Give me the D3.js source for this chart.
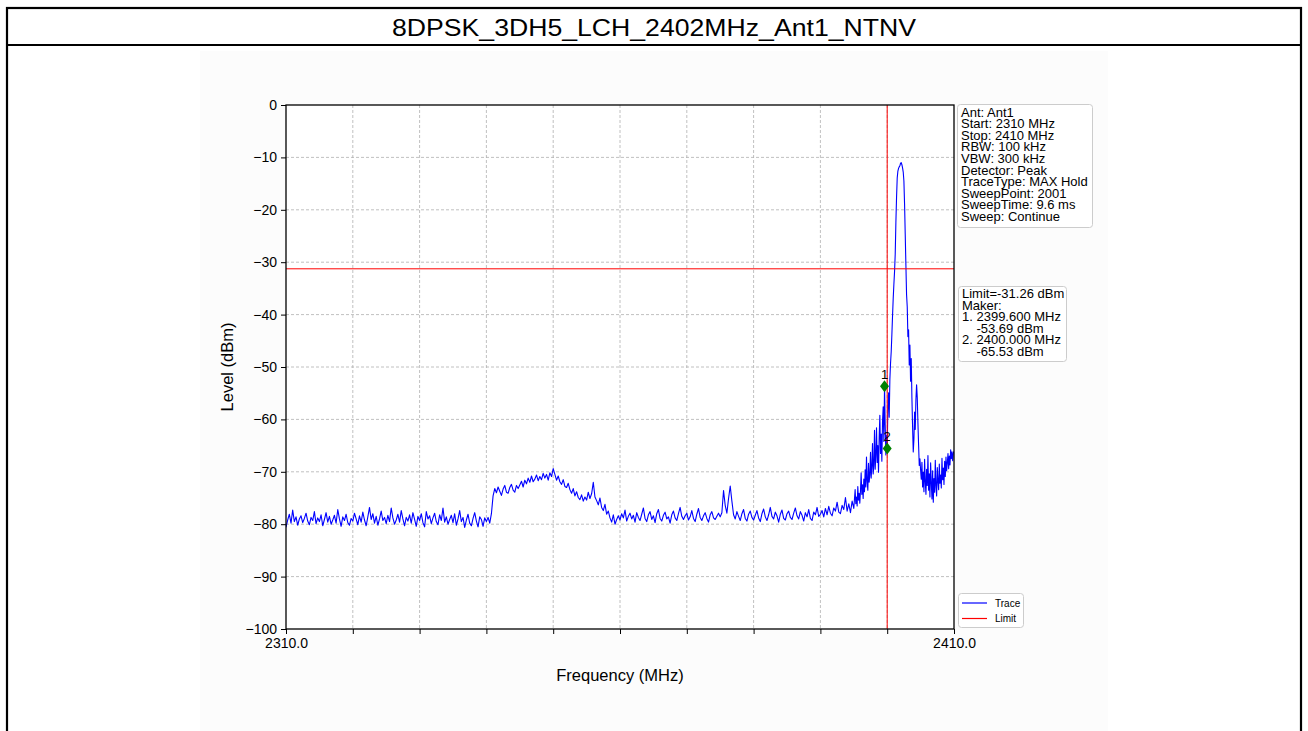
<!DOCTYPE html>
<html>
<head>
<meta charset="utf-8">
<script src="https://cdn.jsdelivr.net/npm/d3@7"></script>
<style>
  body { margin: 0; background: #ffffff; }
  svg { display: block; }
  text { font-family: "Liberation Sans", Arial, Helvetica, sans-serif; fill: #000; }
</style>
</head>
<body>
<svg id="chart" width="1308" height="731"></svg>
<script>
// ---- chart data ----
const chartTitle = "8DPSK_3DH5_LCH_2402MHz_Ant1_NTNV";
const freqDomain = [2310, 2410];
const levelDomain = [-100, 0];
const levelTicks = [0, -10, -20, -30, -40, -50, -60, -70, -80, -90, -100];
const freqGridTicks = [2310, 2320, 2330, 2340, 2350, 2360, 2370, 2380, 2390, 2400, 2410];
const freqLabelTicks = [2310, 2410];
const limitLevel = -31.26;
const bandEdge = 2400;
const markerIds = ["1", "2"];
const markerFreqs = [2399.6, 2400.0];
const markerLevels = [-53.69, -65.53];
const settingsLines = [
  "Ant: Ant1", "Start: 2310 MHz", "Stop: 2410 MHz", "RBW: 100 kHz", "VBW: 300 kHz",
  "Detector: Peak", "TraceType: MAX Hold", "SweepPoint: 2001", "SweepTime: 9.6 ms", "Sweep: Continue"
];
const markerInfoLines = [
  "Limit=-31.26 dBm", "Maker:", "1. 2399.600 MHz", "    -53.69 dBm", "2. 2400.000 MHz", "    -65.53 dBm"
];
const legendNames = ["Trace", "Limit"];

// MAX-hold trace, 2310–2395 MHz at 0.25 MHz spacing
const coarseStart = 2310, coarseStep = 0.25;
const coarseLevels = [
  -80.6,-79.2,-78.1,-79.8,-77.3,-79.5,-78.6,-80.2,-79.0,-78.4,-79.7,-78.9,-77.9,-79.4,-80.1,-78.7,-79.3,-77.6,-79.9,-78.8,
  -79.5,-78.2,-80.3,-79.1,-77.8,-79.6,-78.5,-80.0,-79.2,-78.3,-79.8,-77.2,-79.0,-80.4,-78.6,-79.3,-78.1,-79.7,-80.2,-78.9,
  -79.4,-77.9,-79.0,-80.1,-78.4,-79.6,-77.7,-79.2,-80.3,-78.6,-76.8,-79.1,-78.0,-79.8,-78.5,-80.2,-79.0,-77.5,-79.3,-78.7,
  -79.9,-78.3,-79.5,-76.9,-78.8,-80.0,-79.2,-78.1,-79.6,-77.4,-79.0,-80.3,-78.7,-79.4,-78.2,-79.8,-77.8,-79.1,-80.4,-78.5,
  -79.3,-78.0,-79.7,-80.5,-77.6,-79.0,-78.4,-79.9,-78.8,-77.9,-79.5,-80.1,-78.2,-79.3,-76.9,-79.6,-78.6,-80.0,-79.1,-78.3,
  -79.7,-78.0,-80.2,-79.0,-77.4,-79.5,-78.7,-80.6,-79.2,-78.1,-79.8,-80.3,-78.9,-77.8,-79.4,-80.5,-78.6,-79.1,-80.4,-78.8,
  -79.5,-78.7,-79.8,-78.0,-74.6,-73.2,-74.0,-72.9,-73.7,-74.5,-73.3,-72.6,-73.9,-74.1,-73.0,-72.4,-73.5,-73.9,-72.6,-73.2,
  -72.5,-71.8,-72.9,-71.6,-72.3,-71.2,-72.0,-70.8,-71.9,-71.4,-70.6,-71.7,-70.9,-71.5,-70.3,-71.2,-70.5,-71.6,-70.2,-70.9,
  -69.4,-70.5,-71.6,-70.8,-71.9,-72.4,-71.5,-72.8,-73.0,-72.2,-73.4,-74.1,-73.2,-74.6,-73.8,-74.9,-75.3,-74.4,-75.6,-74.8,
  -75.4,-73.9,-75.1,-74.2,-72.0,-74.8,-75.5,-76.3,-75.0,-76.8,-77.4,-76.2,-78.1,-77.5,-78.8,-79.6,-78.2,-80.0,-79.1,-78.4,
  -79.2,-78.0,-78.8,-77.3,-79.4,-78.5,-77.9,-79.0,-78.3,-79.6,-77.8,-78.7,-79.3,-78.1,-76.9,-78.9,-79.5,-78.2,-77.6,-79.1,
  -78.4,-79.7,-78.0,-77.2,-78.9,-79.4,-78.3,-77.7,-79.0,-78.6,-79.8,-78.2,-77.5,-78.8,-79.3,-78.0,-76.8,-78.5,-79.1,-78.4,
  -77.9,-79.2,-78.6,-77.4,-78.9,-79.5,-78.1,-77.0,-78.7,-79.3,-78.4,-77.8,-78.9,-79.6,-78.2,-77.6,-78.8,-79.1,-78.5,-77.9,
  -78.6,-77.8,-73.6,-76.4,-77.9,-75.1,-72.7,-75.6,-78.2,-79.0,-77.6,-78.5,-79.3,-78.0,-77.2,-78.9,-79.4,-78.1,-77.5,-78.7,
  -79.2,-78.3,-77.4,-78.8,-79.5,-78.0,-77.1,-78.6,-79.3,-78.2,-76.8,-78.5,-79.0,-77.7,-78.4,-79.6,-78.1,-77.3,-78.9,-79.2,
  -78.0,-77.5,-78.7,-79.1,-77.9,-76.9,-78.4,-79.0,-77.6,-78.3,-79.4,-77.8,-78.6,-77.2,-78.9,-79.3,-77.7,-78.2,-76.8,-78.5,
  -78.1,-77.4,-78.6,-77.0,-78.2,-76.6,-77.9,-78.4,-76.9,-77.5,-75.8,-77.7,-78.0,-76.4,-77.2,-74.9,-77.5,-76.1,-77.8,-75.6
];

// MAX-hold trace, 2395–2410 MHz at 0.1 MHz spacing (carrier region)
const fineStart = 2395, fineStep = 0.1;
const fineLevels = [
  -77.0,-75.2,-73.4,-76.1,-74.8,-76.5,-72.8,-75.4,-74.1,-76.0,
  -73.6,-70.2,-74.3,-72.5,-75.1,-71.4,-73.8,-69.6,-72.9,-67.2,
  -71.8,-73.5,-68.4,-72.0,-70.6,-66.3,-71.2,-69.0,-64.6,-70.4,
  -68.7,-62.1,-69.5,-66.8,-61.6,-68.2,-65.0,-70.1,-63.4,-59.2,
  -66.5,-62.8,-68.0,-60.4,-57.6,-64.2,-53.69,-61.0,-66.8,-63.1,
  -65.53,-57.8,-54.9,-59.6,-52.4,-49.3,-47.1,-43.8,-40.2,-36.9,
  -34.2,-31.8,-28.5,-22.4,-17.6,-13.9,-12.6,-12.1,-11.8,-11.6,
  -11.1,-11.0,-11.4,-12.0,-12.8,-14.5,-18.9,-24.7,-30.6,-36.2,
  -38.5,-44.2,-42.9,-49.6,-45.8,-52.7,-48.4,-55.9,-61.4,-66.2,
  -63.8,-58.6,-61.9,-56.2,-53.4,-55.8,-60.7,-64.9,-68.8,-67.5,
  -69.7,-71.4,-68.2,-72.9,-70.1,-73.8,-67.6,-71.9,-74.3,-69.5,
  -72.6,-66.9,-73.5,-70.4,-74.8,-68.3,-72.1,-75.2,-69.8,-75.8,
  -71.3,-73.9,-67.8,-72.7,-74.6,-69.2,-71.8,-73.4,-68.5,-72.2,
  -70.6,-73.1,-67.4,-71.5,-69.3,-72.4,-68.0,-70.9,-67.2,-69.8,
  -68.3,-66.5,-69.4,-67.0,-68.7,-65.8,-67.5,-66.2,-67.9,-66.4,
  -66.1
];

// ---- build trace points ----
const trace = coarseLevels.map((v, i) => ({ f: coarseStart + i * coarseStep, v }))
  .concat(fineLevels.map((v, i) => ({ f: fineStart + i * fineStep, v })));

// ---- layout ----
const W = 1308, H = 731;
const plot = { left: 286, top: 105, width: 668, height: 524 };

const svg = d3.select("#chart");

// figure background, outer frame and title strip
svg.append("rect").attr("x", 200).attr("y", 51).attr("width", 908).attr("height", H - 51)
  .attr("fill", "#fcfcfc");
svg.append("rect").attr("x", 7).attr("y", 8).attr("width", 1294).attr("height", H + 20)
  .attr("fill", "none").attr("stroke", "#000").attr("stroke-width", 2.2);
svg.append("line").attr("x1", 7).attr("x2", 1301).attr("y1", 45).attr("y2", 45)
  .attr("stroke", "#000").attr("stroke-width", 2.2);
svg.append("text").attr("x", 654).attr("y", 36).attr("text-anchor", "middle")
  .attr("font-size", 24).attr("textLength", 524).attr("lengthAdjust", "spacingAndGlyphs")
  .text(chartTitle);

const x = d3.scaleLinear().domain(freqDomain).range([0, plot.width]);
const y = d3.scaleLinear().domain(levelDomain).range([plot.height, 0]);

const g = svg.append("g").attr("transform", `translate(${plot.left},${plot.top})`);
g.append("rect").attr("width", plot.width).attr("height", plot.height).attr("fill", "#ffffff");

// grid
g.append("g").selectAll("line").data(freqGridTicks.slice(1, -1)).join("line")
  .attr("x1", d => x(d)).attr("x2", d => x(d)).attr("y1", 0).attr("y2", plot.height)
  .attr("stroke", "#b0b0b0").attr("stroke-width", 0.8).attr("stroke-dasharray", "3,2");
g.append("g").selectAll("line").data(levelTicks.slice(1, -1)).join("line")
  .attr("x1", 0).attr("x2", plot.width).attr("y1", d => y(d)).attr("y2", d => y(d))
  .attr("stroke", "#b0b0b0").attr("stroke-width", 0.8).attr("stroke-dasharray", "3,2");

// axes
const fmtMinus = d => (d < 0 ? "\u2212" + Math.abs(d) : String(d));
const yAxis = g.append("g").call(d3.axisLeft(y).tickValues(levelTicks).tickFormat(fmtMinus)
  .tickSize(5).tickPadding(4));
yAxis.select(".domain").remove();
yAxis.attr("font-size", null).attr("font-family", null);
yAxis.selectAll("text").attr("font-size", 14);
yAxis.selectAll("line").attr("stroke", "#000").attr("stroke-width", 1);

const xAxis = g.append("g").attr("transform", `translate(0,${plot.height})`)
  .call(d3.axisBottom(x).tickValues(freqGridTicks)
    .tickFormat(d => freqLabelTicks.includes(d) ? d.toFixed(1) : "")
    .tickSize(5).tickPadding(4));
xAxis.select(".domain").remove();
xAxis.attr("font-size", null).attr("font-family", null);
xAxis.selectAll("text").attr("font-size", 14);
xAxis.selectAll("line").attr("stroke", "#000").attr("stroke-width", 1);

// axis titles
svg.append("text").attr("x", plot.left + plot.width / 2).attr("y", 681)
  .attr("text-anchor", "middle").attr("font-size", 16.5).text("Frequency (MHz)");
svg.append("text").attr("transform", `translate(233,${plot.top + plot.height / 2}) rotate(-90)`)
  .attr("text-anchor", "middle").attr("font-size", 16.5).text("Level (dBm)");

// clip for data
svg.append("clipPath").attr("id", "plotClip").append("rect")
  .attr("width", plot.width).attr("height", plot.height);
const data = g.append("g").attr("clip-path", "url(#plotClip)");

// trace
data.append("path").datum(trace)
  .attr("d", d3.line().x(d => x(d.f)).y(d => y(d.v)))
  .attr("fill", "none").attr("stroke", "#0000ff").attr("stroke-width", 1.1).attr("stroke-linejoin", "round");

// limit line and 2400 MHz band edge
data.append("line").attr("x1", 0).attr("x2", plot.width).attr("y1", y(limitLevel)).attr("y2", y(limitLevel))
  .attr("stroke", "#ff0000").attr("stroke-width", 1);
data.append("line").attr("x1", x(bandEdge)).attr("x2", x(bandEdge)).attr("y1", 0).attr("y2", plot.height)
  .attr("stroke", "#ff0000").attr("stroke-width", 1);

// markers
const markers = markerIds.map((id, i) => ({ id, f: markerFreqs[i], v: markerLevels[i] }));
const diamond = "M0,-6 L4.5,0 L0,6 L-4.5,0 Z";
g.append("g").selectAll("path").data(markers).join("path")
  .attr("d", diamond).attr("transform", d => `translate(${x(d.f)},${y(d.v)})`)
  .attr("fill", "#008000");
g.append("g").selectAll("text").data(markers).join("text")
  .attr("x", d => x(d.f)).attr("y", d => y(d.v) - 7).attr("text-anchor", "middle")
  .attr("font-size", 13).text(d => d.id);

// frame
g.append("rect").attr("width", plot.width).attr("height", plot.height)
  .attr("fill", "none").attr("stroke", "#000").attr("stroke-width", 1.3);

// info boxes
function infoBox(x0, y0, w, h, lines, lineGap, firstBase) {
  svg.append("rect").attr("x", x0).attr("y", y0).attr("width", w).attr("height", h)
    .attr("rx", 3).attr("fill", "#fff").attr("stroke", "#cccccc").attr("stroke-width", 1);
  svg.append("g").selectAll("text").data(lines).join("text")
    .attr("x", x0 + 3.5).attr("y", (d, i) => firstBase + i * lineGap)
    .attr("font-size", 13).style("white-space", "pre").text(d => d);
}
infoBox(957.5, 104.5, 135, 123, settingsLines, 11.6, 116.5);
infoBox(958.5, 286.5, 108, 75, markerInfoLines, 11.6, 298);

// legend
const legendColors = ["#0000ff", "#ff0000"];
svg.append("rect").attr("x", 958.5).attr("y", 593.5).attr("width", 65).attr("height", 34)
  .attr("rx", 3).attr("fill", "#fff").attr("stroke", "#cccccc").attr("stroke-width", 1);
const lg = svg.append("g").selectAll("g").data(legendNames).join("g")
  .attr("transform", (d, i) => `translate(962,${603 + i * 15.5})`);
lg.append("line").attr("x1", 0).attr("x2", 25).attr("stroke", (d, i) => legendColors[i]).attr("stroke-width", 1.2);
lg.append("text").attr("x", 33).attr("y", 3.5).attr("font-size", 10).text(d => d);
</script>
</body>
</html>
